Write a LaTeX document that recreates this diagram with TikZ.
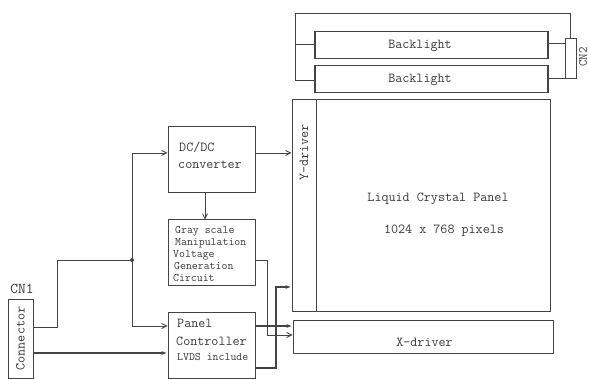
\documentclass[tikz,border=0pt]{standalone}
\usepackage{fontspec}
\usetikzlibrary{arrows.meta,calc}
\definecolor{lc}{RGB}{68,68,68}
\definecolor{tc}{RGB}{58,58,58}
\begin{document}
\begin{tikzpicture}[x=1pt,y=-1pt,
  box/.style={draw=lc,line width=1pt,inner sep=0pt,anchor=center},
  lbl/.style={text=tc,inner sep=0pt,font=\ttfamily\fontsize{13.7}{13.7}\selectfont},
  lbls/.style={text=tc,inner sep=0pt,font=\ttfamily\fontsize{11.5}{12}\selectfont},
  wire/.style={draw=lc,line width=0.8pt},
  bus/.style={draw=lc,line width=1.2pt},
  oarr/.style={-{Straight Barb[length=5pt,width=5pt]}},
  farr/.style={-{Latex[length=6pt,width=4pt]}},
  lamp/.style={draw=lc,line width=2pt}
]
\useasboundingbox[fill=white] (0,0) rectangle (589,379);

% backlights
\node[box,minimum width=232pt,minimum height=27pt] (bl1) at (431,45.5) {};
\node[box,minimum width=232pt,minimum height=27pt] (bl2) at (431,79.5) {};
\node[lbl] (bl1t) at (420,45.5) {Backlight};
\node[lbl] (bl2t) at (420,80) {Backlight};
\draw[lamp] (bl1.north west) -- (bl1.south west);
\draw[lamp] (bl1.north east) -- (bl1.south east);
\draw[lamp] (bl2.north west) -- (bl2.south west);
\draw[lamp] (bl2.north east) -- (bl2.south east);
\node[box,minimum width=11pt,minimum height=40pt] (cn2) at (570.5,59) {};
\node[lbl,rotate=90,font=\ttfamily\fontsize{12.5}{12.5}\selectfont] (cn2t) at (583,57) {CN2};
\coordinate (fa) at (295,13);
\coordinate (fb) at (295,44);
\coordinate (fc) at (295,80);
\draw[wire] (fb) -- (fb -| bl1.west);
\draw[wire] (fc) -- (fa) -| (cn2.north);
\draw[wire] (fc) -- (fc -| bl2.west);
\coordinate (ra) at (547,43);
\coordinate (rb) at (547,78);
\draw[wire] (ra -| bl1.east) -- (ra -| cn2.west);
\draw[wire] (rb -| bl2.east) -- (rb -| cn2.west);

% panel
\node[box,minimum width=24pt,minimum height=212pt] (ydrv) at (304,206) {};
\node[box,minimum width=234pt,minimum height=212pt] (lcd) at (433,206) {};
\node[lbl,rotate=90] (ydrvt) at (304,152.5) {Y-driver};
\node[lbl] (lcdt1) at (438,199) {Liquid Crystal Panel};
\node[lbl] (lcdt2) at (444,231) {1024 x 768 pixels};
\node[box,minimum width=260pt,minimum height=32pt] (xdrv) at (423,337) {};
\node[lbl] (xdrvt) at (424.5,342) {X-driver};

% function blocks
\node[box,minimum width=87pt,minimum height=66pt] (dcdc) at (211.5,160) {};
\node[lbl,anchor=base west] (dc1) at (179,151.5) {DC/DC};
\node[lbl,anchor=base west] (dc2) at (178,168.5) {converter};

\node[box,minimum width=87pt,minimum height=66pt] (gray) at (211.5,253) {};
\node[lbls,anchor=base west] (g1) at (175,233.5) {Gray scale};
\node[lbls,anchor=base west] (g2) at (175,246) {Manipulation};
\node[lbls,anchor=base west] (g3) at (173,258) {Voltage};
\node[lbls,anchor=base west] (g4) at (174,270) {Generation};
\node[lbls,anchor=base west] (g5) at (173,281.5) {Circuit};

\node[box,minimum width=87pt,minimum height=65pt] (pc) at (211.5,345.5) {};
\node[lbl,anchor=base west] (p1) at (177,327.5) {Panel};
\node[lbl,anchor=base west] (p2) at (176,345.5) {Controller};
\node[lbls,anchor=base west] (p3) at (177,360) {LVDS include};

\node[box,minimum width=25pt,minimum height=78pt] (conn) at (20.5,339) {};
\node[lbl,rotate=90] (connt) at (20.5,338.5) {Connector};
\node[lbl,font=\ttfamily\fontsize{15}{15}\selectfont] (cn1) at (22,288.5) {CN1};

% connections
\coordinate (J) at (132,260);
\coordinate (c1) at (57,327);
\draw[wire] (c1 -| conn.east) -- (c1) |- (J);
\coordinate (d1) at (0,153);
\draw[wire,oarr] (J) |- (d1 -| dcdc.west);
\coordinate (d2) at (0,326);
\draw[wire,oarr] (J) |- (d2 -| pc.west);
\fill[lc] (J) circle (2pt);
\coordinate (d3) at (0,353);
\draw[bus,farr] (d3 -| conn.east) -- (d3 -| pc.west);
\coordinate (d4) at (205,0);
\draw[wire,oarr] (d4 |- dcdc.south) -- (d4 |- gray.north);
\draw[wire,oarr] (d1 -| dcdc.east) -- (d1 -| ydrv.west);
\coordinate (g6) at (267,260);
\coordinate (g7) at (267,335);
\draw[wire,oarr] (g6 -| gray.east) -- (g6) -- (g7) -- (g7 -| xdrv.west);
\draw[bus,farr] (d2 -| pc.east) -- (d2 -| xdrv.west);
\coordinate (p4) at (276,368);
\coordinate (p5) at (276,287);
\draw[bus,farr] (p4 -| pc.east) -- (p4) -- (p5) -- (p5 -| ydrv.west);
\end{tikzpicture}
\end{document}
